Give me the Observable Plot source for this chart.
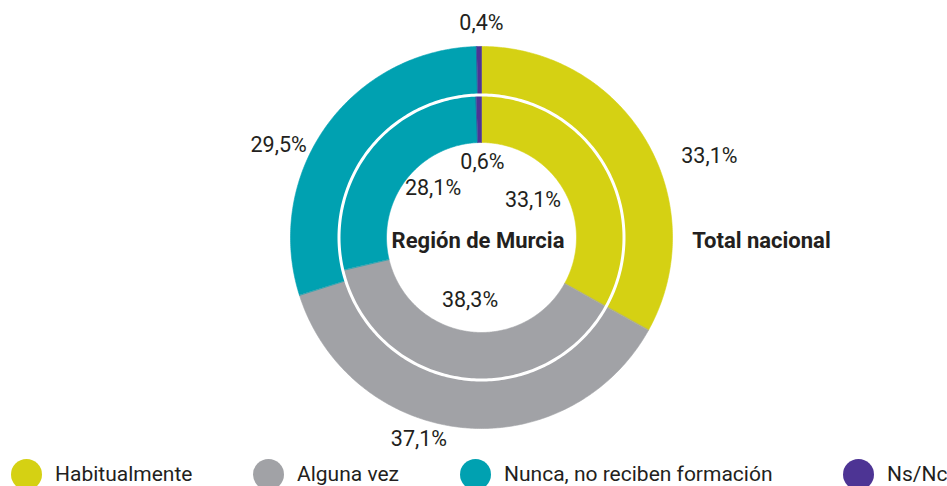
<!DOCTYPE html>
<html><head><meta charset="utf-8">
<script src="https://cdn.jsdelivr.net/npm/d3@7"></script>
<script src="https://cdn.jsdelivr.net/npm/@observablehq/plot@0.6"></script>
<style>
body{margin:0;background:#fff;font-family:Roboto,"Liberation Sans",sans-serif;overflow:hidden}
#legend{position:relative;height:44px;color:#231f20;font-size:21px;white-space:nowrap}
.item{position:absolute;top:0;height:44px;display:flex;align-items:center;gap:13px}
.sw{width:31px;height:31px;border-radius:50%;flex:none}
</style></head><body>
<div id="chart"></div><div id="legend"></div>
<script>
// ---- data ----
const categories = ["Habitualmente", "Alguna vez", "Nunca, no reciben formación", "Ns/Nc"];
const colors = ["#d5d113", "#a1a2a6", "#00a1b1", "#4d3494"];
const totalNacional = [33.1, 37.1, 29.5, 0.4];   // outer ring
const regionMurcia = [33.1, 38.3, 28.1, 0.6];    // inner ring
const ringTitles = ["Total nacional", "Región de Murcia"];

// ---- layout (pixels) ----
const W = 947, H = 452, cx = 481, cy = 237;
const rOuter = 191, rMid = 142.5, rInner = 95;
const outerLabelLayout = [{shift: 10.8, r: 242}, {shift: 11.5, r: 211}, {shift: -11, r: 223}, {shift: 0.7, r: 214.5}];
const innerLabelLayout = [{shift: -5.2, r: 63.4}, {shift: 2.4, r: 64}, {shift: 8.3, r: 69.3}, {shift: 1.8, r: 75}];
const legendLeft = [11, 253, 460, 843];
const textColor = "#231f20";

const pie = d3.pie().sort(null).value(d => d);
const fmt = v => v.toFixed(1).replace(".", ",") + "%";

function ringPolys(values, r0, r1, ring) {
  const pts = [];
  pie(values).forEach((s, i) => {
    const id = ring + "-" + i;
    const n = Math.max(2, Math.ceil((s.endAngle - s.startAngle) / 0.01));
    for (let k = 0; k <= n; k++) {
      const a = s.startAngle + (s.endAngle - s.startAngle) * k / n;
      pts.push({id, cat: categories[i], x: r1 * Math.sin(a), y: r1 * Math.cos(a)});
    }
    for (let k = n; k >= 0; k--) {
      const a = s.startAngle + (s.endAngle - s.startAngle) * k / n;
      pts.push({id, cat: categories[i], x: r0 * Math.sin(a), y: r0 * Math.cos(a)});
    }
  });
  return pts;
}

function ringLabels(values, layout) {
  return pie(values).map((s, i) => {
    const a = (s.startAngle + s.endAngle) / 2 + layout[i].shift * Math.PI / 180;
    return {text: fmt(values[i]), x: layout[i].r * Math.sin(a), y: layout[i].r * Math.cos(a)};
  });
}

const slices = [...ringPolys(totalNacional, rMid, rOuter, "outer"), ...ringPolys(regionMurcia, rInner, rMid, "inner")];
const sep = d3.range(0, 361).map(d => ({x: rMid * Math.sin(d * Math.PI / 180), y: rMid * Math.cos(d * Math.PI / 180)}));
const labels = [...ringLabels(totalNacional, outerLabelLayout), ...ringLabels(regionMurcia, innerLabelLayout)];
const titles = [{text: ringTitles[0], x: 280, y: -3.5}, {text: ringTitles[1], x: -3.5, y: -3.5}];

const chart = Plot.plot({
  width: W, height: H,
  margin: 0,
  x: {domain: [-cx, W - cx], range: [0, W], axis: null},
  y: {domain: [cy - H, cy], range: [H, 0], axis: null},
  color: {domain: categories, range: colors},
  style: {fontFamily: 'Roboto,"Liberation Sans",sans-serif', background: "#fff"},
  marks: [
    Plot.line(slices, {x: "x", y: "y", z: "id", fill: "cat", stroke: "cat", strokeWidth: 0.6, curve: "linear-closed"}),
    Plot.line(sep, {x: "x", y: "y", stroke: "#fff", strokeWidth: 3}),
    Plot.text(labels, {x: "x", y: "y", text: "text", fontSize: 21.5, fill: textColor}),
    Plot.text(titles, {x: "x", y: "y", text: "text", fontSize: 22, fontWeight: "bold", fill: textColor})
  ]
});
document.getElementById("chart").appendChild(chart);

const legend = document.getElementById("legend");
categories.forEach((c, i) => {
  const it = document.createElement("div");
  it.className = "item";
  it.style.left = legendLeft[i] + "px";
  it.innerHTML = `<span class="sw" style="background:${colors[i]}"></span><span>${c}</span>`;
  legend.appendChild(it);
});
</script>
</body></html>
